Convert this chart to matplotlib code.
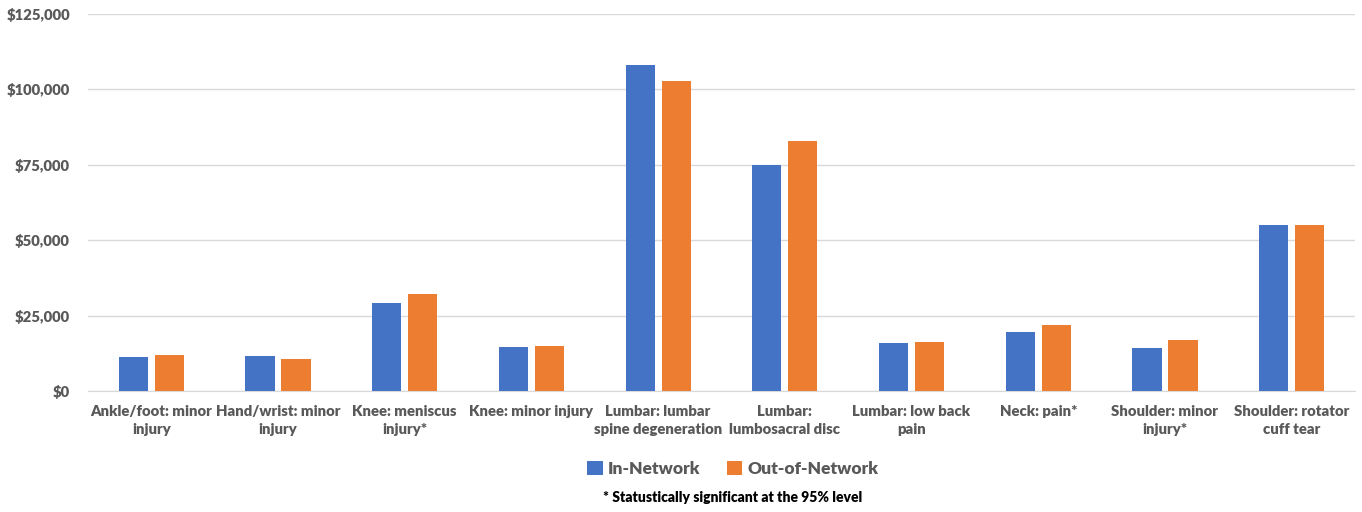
import matplotlib
matplotlib.use('Agg')
import matplotlib.pyplot as plt
import numpy as np
from matplotlib.ticker import FuncFormatter, MultipleLocator

categories = [
    'Ankle/foot: minor\ninjury',
    'Hand/wrist: minor\ninjury',
    'Knee: meniscus\ninjury*',
    'Knee: minor injury',
    'Lumbar: lumbar\nspine degeneration',
    'Lumbar:\nlumbosacral disc',
    'Lumbar: low back\npain',
    'Neck: pain*',
    'Shoulder: minor\ninjury*',
    'Shoulder: rotator\ncuff tear',
]
in_network = [11200, 11600, 29100, 14500, 108000, 75000, 15900, 19400, 14100, 55200]
out_network = [12100, 10600, 32300, 15000, 102700, 83000, 16100, 22000, 17000, 55200]

plt.rcParams['font.family'] = ['Lato', 'DejaVu Sans']
plt.rcParams['font.weight'] = 'bold'

grey = '#595959'
blue = '#4472C4'
orange = '#ED7D31'

fig = plt.figure(figsize=(13.62, 5.12), dpi=100)
ax = fig.add_axes([88 / 1362, 121 / 512, 1267 / 1362, 377 / 512])

x = np.arange(len(categories))
w = 0.23
off = 0.142
ax.bar(x - off, in_network, w, color=blue, label='In-Network', zorder=3)
ax.bar(x + off, out_network, w, color=orange, label='Out-of-Network', zorder=3)

ax.set_xlim(-0.5, len(categories) - 0.5)
ax.set_ylim(0, 125000)
ax.yaxis.set_major_locator(MultipleLocator(25000))
ax.yaxis.set_major_formatter(FuncFormatter(lambda v, p: f'${v:,.0f}'))
ax.grid(axis='y', color='#d9d9d9', linewidth=1, zorder=0)
for s in ['top', 'right', 'left']:
    ax.spines[s].set_visible(False)
ax.spines['bottom'].set_color('#d9d9d9')
ax.tick_params(length=0, colors=grey, labelsize=10.7)
ax.tick_params(axis='y', pad=13)
ax.tick_params(axis='x', pad=10)
ax.set_xticks(x)
ax.set_xticklabels(categories, color=grey, fontweight='heavy', linespacing=1.5)
for t in ax.get_yticklabels():
    t.set_fontweight('heavy')

leg = fig.legend(loc='center', bbox_to_anchor=(733 / 1362, 1 - 469 / 512), ncol=2,
                 frameon=False, fontsize=12.5, handlelength=0.9, handleheight=0.9,
                 handletextpad=0.3, columnspacing=1.5,
                 prop={'weight': 'heavy', 'size': 12.5})
for t in leg.get_texts():
    t.set_color(grey)

fig.text(733 / 1362, 1 - 498 / 512, '* Statustically significant at the 95% level',
         ha='center', va='center', fontsize=10, fontweight='heavy', color='black')

fig.savefig('out.png', dpi=100)
